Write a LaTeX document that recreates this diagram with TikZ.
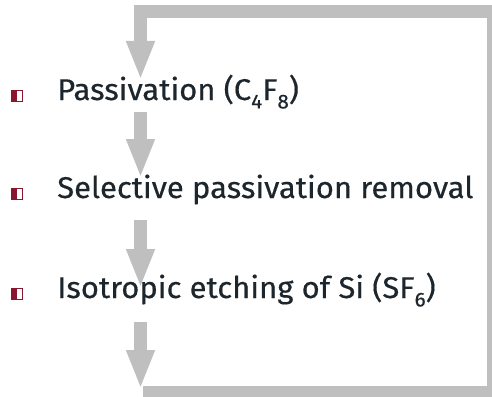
\documentclass[tikz,border=0pt]{standalone}
\usepackage{fontspec}
\setmainfont{Fira Sans}[FakeStretch=1.035, FakeBold=0.4]
\usetikzlibrary{arrows.meta}
\definecolor{flowgray}{HTML}{BFBFBF}
\definecolor{inkdark}{HTML}{1C262C}
\definecolor{bulletred}{HTML}{8A1530}
\tikzset{
  steptext/.style={anchor=base west, inner sep=0pt, text=inkdark,
    font=\fontsize{30}{34}\selectfont},
  flowarrow/.style={draw=flowgray, line width=13pt,
    -{Triangle[width=26pt,length=39pt]}},
  flowloop/.style={draw=flowgray, line width=13pt, miter limit=10,
    -{Triangle[width=26pt,length=39pt]}},
}
% chemical subscript, set low and fairly large
\newcommand{\chemsub}[1]{\raisebox{-0.28em}{\fontsize{20}{20}\selectfont #1}}
\newcommand{\stepbullet}[1]{%
  \fill[bulletred] (11,#1-10) rectangle (16.5,#1+2);
  \draw[bulletred, line width=1.2pt] (16.5,#1-9.4) rectangle (22.4,#1+1.4);
}
\begin{document}
\begin{tikzpicture}[x=1pt,y=-1pt]
  \useasboundingbox (0,0) rectangle (492,396);
  \clip (0,0) rectangle (492,396);

  % arrow anchor points
  \coordinate (a1) at (140.5,80);
  \coordinate (b2) at (140.5,112);
  \coordinate (a2) at (140.5,178);
  \coordinate (b3) at (140.5,220);
  \coordinate (a3) at (140.5,288);
  \coordinate (b4) at (140.5,322);
  \coordinate (a4) at (140.5,389);
  \coordinate (lp0) at (143,392.5);
  \coordinate (lp1) at (493.5,392.5);
  \coordinate (lp2) at (493.5,11.5);
  \coordinate (lp3) at (140.5,11.5);

  % straight arrows between steps
  \draw[flowarrow] (b2) -- (a2);
  \draw[flowarrow] (b3) -- (a3);
  \draw[flowarrow] (b4) -- (a4);
  % feedback loop back to the first step
  \draw[flowloop] (lp0) -- (lp1) -- (lp2) -- (lp3) -- (a1);

  % step labels
  \node[steptext] (s1) at (57,100) {Passivation (C\chemsub{4}F\chemsub{8})};
  \node[steptext] (s2) at (57,198) {Selective passivation removal};
  \node[steptext] (s3) at (57,298) {Isotropic etching of Si (SF\chemsub{6})};

  % bullets
  \stepbullet{100}
  \stepbullet{198}
  \stepbullet{298}
\end{tikzpicture}
\end{document}
